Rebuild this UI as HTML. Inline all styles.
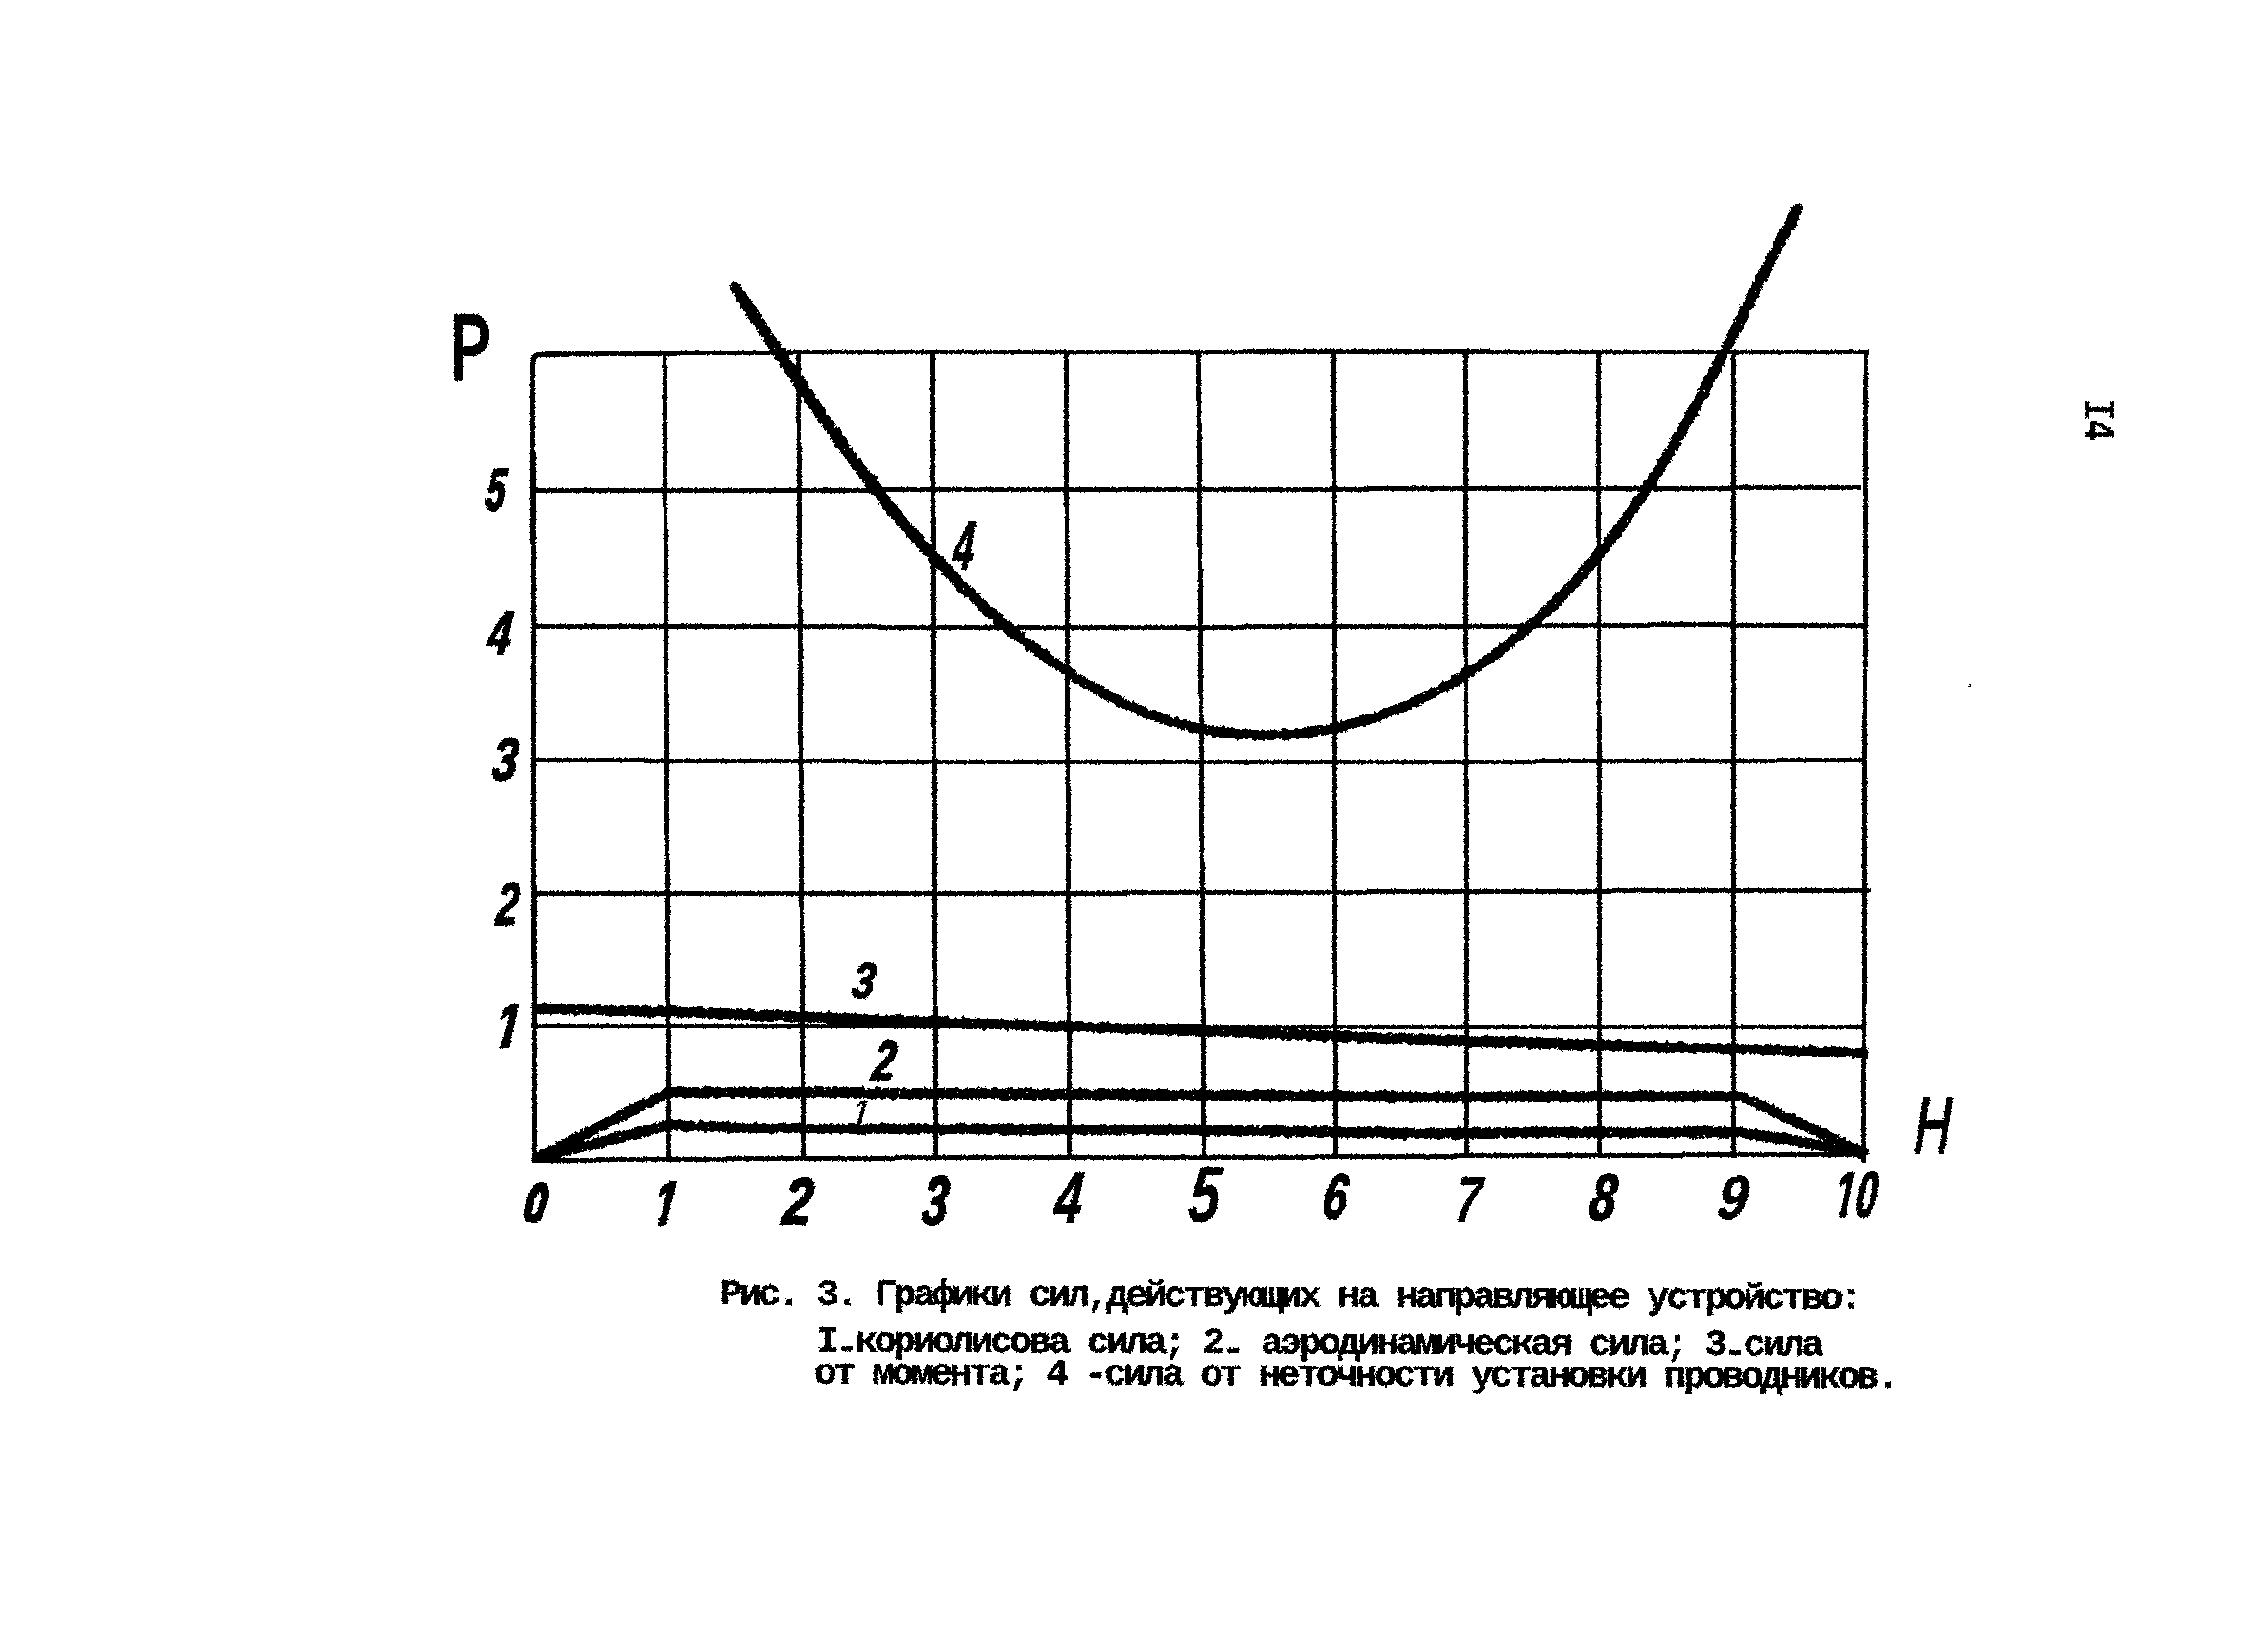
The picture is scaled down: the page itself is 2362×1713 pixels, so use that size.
<!DOCTYPE html>
<html lang="ru"><head><meta charset="utf-8"><title>Рис. 3</title>
<style>
html,body{margin:0;padding:0;background:#fff}
body{width:2362px;height:1713px;overflow:hidden;position:relative}
svg{position:absolute;left:0;top:0;display:block}
</style></head><body>
<svg width="2362" height="1713" viewBox="0 0 2362 1713">
<defs>
<clipPath id="nfb"><path d="M-50,-220H400V60H104V-27H75L70,8H29L34,-27H-50Z"/></clipPath>
<clipPath id="nfn"><path d="M-50,-220H400V60H104V-19H65L61,5H36L40,-19H-50Z"/></clipPath>
<filter id="rough" filterUnits="userSpaceOnUse" x="0" y="0" width="2362" height="1713" color-interpolation-filters="sRGB">
<feTurbulence type="fractalNoise" baseFrequency="0.45" numOctaves="2" seed="7" result="n"/>
<feDisplacementMap in="SourceGraphic" in2="n" scale="3.2" xChannelSelector="R" yChannelSelector="G" result="d"/>
<feComponentTransfer><feFuncA type="discrete" tableValues="0 1"/></feComponentTransfer>
</filter>
<filter id="ink" filterUnits="userSpaceOnUse" x="0" y="0" width="2362" height="1713" color-interpolation-filters="sRGB">
<feTurbulence type="fractalNoise" baseFrequency="0.18" numOctaves="3" seed="11" result="n"/>
<feDisplacementMap in="SourceGraphic" in2="n" scale="5" xChannelSelector="G" yChannelSelector="B" result="d"/>
<feTurbulence type="fractalNoise" baseFrequency="0.33" numOctaves="2" seed="23" result="m"/>
<feColorMatrix in="m" type="matrix" values="0 0 0 0 0  0 0 0 0 0  0 0 0 0 0  10 0 0 0 -7.6" result="holes"/>
<feComposite in="d" in2="holes" operator="out"/>
</filter>
</defs>
<g filter="url(#rough)">
<g stroke="#000" fill="none" stroke-linecap="butt">
<line x1="692" y1="367.5" x2="696.9" y2="1206" stroke-width="4.8"/>
<line x1="831.5" y1="367.5" x2="836.5" y2="1206" stroke-width="4.8"/>
<line x1="971.4" y1="367.5" x2="974.7" y2="1206" stroke-width="4.8"/>
<line x1="1110.3" y1="367.5" x2="1113.6" y2="1206" stroke-width="4.8"/>
<line x1="1248.6" y1="367.5" x2="1254.1" y2="1206" stroke-width="4.8"/>
<line x1="1388.7" y1="367.5" x2="1390.3" y2="1206" stroke-width="4.8"/>
<line x1="1526.6" y1="367.5" x2="1527.5" y2="1206" stroke-width="4.8"/>
<line x1="1664.8" y1="367.5" x2="1665.4" y2="1206" stroke-width="4.8"/>
<line x1="1805.3" y1="367.5" x2="1805.3" y2="1206" stroke-width="4.8"/>
<line x1="1943" y1="367.5" x2="1940.6" y2="1211" stroke-width="4.8"/>
<line x1="553" y1="510.8" x2="1938" y2="507.8" stroke-width="5"/>
<polyline points="553.5,1208.6 800,1206.8 975,1205.8 1250,1205.7 1480,1204.2 1700,1203.2 1943,1202.4" stroke-width="5"/>
<path d="M556.6,1206 L555.6,800 L554.7,379 Q554.6,369.3 564,369.1 L900,366.3 L1500,366 L1946,366.7" stroke-width="5.2" stroke-linejoin="round"/>
<polyline points="553,931 1111,930.2 1949,927" stroke-width="5"/>
<polyline points="553,1068.2 1000,1068.8 1250,1069 1480,1069.8 1943,1069" stroke-width="5"/>
<polyline points="553,652.2 1100,653.4 1540,652.4 1750,650.8 1943,651.2" stroke-width="5"/>
<polyline points="553,791.5 1000,793.5 1300,794 1600,793 1943,791.6" stroke-width="5"/>
</g>
<g stroke="#000" fill="none" stroke-linecap="round" stroke-linejoin="round" filter="url(#ink)">
<path d="M765.9,300.2C769.9,306.1 782.4,324.2 790.1,335.5C797.8,346.9 804.7,357.3 812,368.1C819.3,379 826.6,389.9 834,400.7C841.3,411.6 848.6,422.4 856.1,433.1C863.6,443.9 871.1,454.6 878.8,465.2C886.5,475.7 894.3,486.3 902.3,496.6C910.3,507 918.4,517.3 926.7,527.4C935,537.6 943.4,547.6 952.1,557.4C960.8,567.2 969.6,576.9 978.6,586.4C987.7,595.9 1001.7,609.7 1006.3,614.3" stroke-width="12.6"/>
<path d="M978.6,586.4C983.2,591.1 996.9,605.2 1006.3,614.3C1015.8,623.5 1025.4,632.4 1035.3,641C1045.1,649.7 1055.2,658.2 1065.6,666.3C1075.9,674.5 1092,686 1097.3,689.9" stroke-width="11.6"/>
<path d="M1065.6,666.3C1070.9,670.3 1086.5,682.4 1097.3,689.9C1108,697.4 1119.1,704.6 1130.3,711.3C1141.6,717.9 1153.1,724.2 1164.8,729.8C1176.5,735.4 1188.4,740.6 1200.6,745C1212.8,749.4 1225.2,753.2 1237.8,756.3C1250.4,759.3 1263.3,761.6 1276.3,763.1C1289.3,764.7 1302.5,765.4 1315.7,765.5C1328.8,765.6 1342.1,764.9 1355.2,763.5C1368.3,762.1 1381.4,760 1394.1,757.3C1406.9,754.5 1419.5,751.1 1431.9,747.1C1444.2,743 1456.4,738.3 1468.3,733.1C1480.2,727.9 1491.8,722.1 1503.3,715.8C1514.7,709.6 1525.8,702.7 1536.7,695.5C1547.6,688.3 1558.3,680.5 1568.7,672.4C1579,664.4 1589.1,655.8 1599,647C1608.8,638.2 1622.8,624.1 1627.5,619.5" stroke-width="10.6"/>
<path d="M1599,647C1603.7,642.4 1618.3,629 1627.5,619.5C1636.7,610.1 1645.7,600.3 1654.3,590.3C1662.9,580.3 1671.2,570.1 1679.2,559.7C1687.2,549.3 1694.8,538.6 1702.3,527.9C1709.8,517.1 1716.9,506.2 1723.9,495.1C1730.9,484.1 1737.6,472.8 1744.2,461.5C1750.9,450.2 1757.2,438.8 1763.6,427.3C1769.9,415.8 1776,404.2 1782.1,392.5C1788.2,380.9 1794.2,369.2 1800.2,357.5C1806.1,345.7 1812,334 1817.9,322.2C1823.9,310.5 1829.8,298.7 1835.7,287C1841.7,275.3 1847.7,263.6 1853.8,251.9C1859.8,240.3 1869.2,223 1872.3,217.2" stroke-width="11.4"/>
<path stroke-linecap="butt" d="M553.8,1050.3 L697,1053.8 L837,1058.8 L1000,1065.4 L1250,1073.8 L1480,1082.6 L1665,1088.3 L1945,1096.5" stroke-width="11"/>
<path d="M560,1205 L697,1137 L900,1138 L1250,1140.3 L1480,1142.3 L1813,1141.3 L1940,1200" stroke-width="11.2" stroke-linejoin="miter"/>
<path d="M561,1205.5 L697,1171.5 L760,1174 L837,1175 L1250,1176.8 L1480,1180.3 L1805,1178.8 L1860,1186 L1940,1201" stroke-width="11.2" stroke-linejoin="miter"/>
</g>
<g fill="#000">
<text transform="matrix(0.206 0 -0.033 0.28 544.609 1271.979)" font-size="200" font-family="'Liberation Sans',sans-serif" font-weight="bold" font-style="italic" stroke="#000" stroke-width="14" stroke-linejoin="round">0</text>
<text transform="matrix(0.229 0 -0.036 0.326 677.904 1275.658)" font-size="200" font-family="'Liberation Sans',sans-serif" font-weight="bold" font-style="italic" clip-path="url(#nfb)" stroke="#000" stroke-width="7" stroke-linejoin="round">1</text>
<text transform="matrix(0.272 0 -0.043 0.342 813.228 1274.602)" font-size="200" font-family="'Liberation Sans',sans-serif" font-weight="bold" font-style="italic" stroke="#000" stroke-width="7" stroke-linejoin="round">2</text>
<text transform="matrix(0.239 0 -0.038 0.356 958.798 1274.844)" font-size="200" font-family="'Liberation Sans',sans-serif" font-weight="bold" font-style="italic" stroke="#000" stroke-width="7" stroke-linejoin="round">3</text>
<text transform="matrix(0.257 0 -0.041 0.387 1096.476 1273.92)" font-size="200" font-family="'Liberation Sans',sans-serif" font-weight="bold" font-style="italic" stroke="#000" stroke-width="3" stroke-linejoin="round">4</text>
<text transform="matrix(0.294 0 -0.047 0.414 1235.465 1271.965)" font-size="200" font-family="'Liberation Sans',sans-serif" font-weight="bold" font-style="italic" stroke="#000" stroke-width="1" stroke-linejoin="round">5</text>
<text transform="matrix(0.23 0 -0.036 0.322 1375.757 1268.192)" font-size="200" font-family="'Liberation Sans',sans-serif" font-weight="bold" font-style="italic" stroke="#000" stroke-width="6" stroke-linejoin="round">6</text>
<text transform="matrix(0.236 0 -0.037 0.34 1513.682 1273.46)" font-size="200" font-family="'Liberation Sans',sans-serif" font-weight="bold" font-style="italic" stroke="#000" stroke-width="2" stroke-linejoin="round">7</text>
<text transform="matrix(0.25 0 -0.04 0.337 1653.204 1270.282)" font-size="200" font-family="'Liberation Sans',sans-serif" font-weight="bold" font-style="italic" stroke="#000" stroke-width="5" stroke-linejoin="round">8</text>
<text transform="matrix(0.274 0 -0.043 0.318 1786.868 1268.787)" font-size="200" font-family="'Liberation Sans',sans-serif" font-weight="bold" font-style="italic" stroke="#000" stroke-width="3" stroke-linejoin="round">9</text>
<text transform="matrix(0.203 0 -0.032 0.34 1908.379 1267.469)" font-size="200" font-family="'Liberation Sans',sans-serif" font-weight="bold" font-style="italic" clip-path="url(#nfb)" stroke="#000" stroke-width="5" stroke-linejoin="round">10</text>
<text transform="matrix(0.185 0 -0.029 0.314 504.492 531.415)" font-size="200" font-family="'Liberation Sans',sans-serif" font-weight="bold" font-style="italic" stroke="#000" stroke-width="8" stroke-linejoin="round">5</text>
<text transform="matrix(0.218 0 -0.035 0.319 506.816 681.485)" font-size="200" font-family="'Liberation Sans',sans-serif" font-weight="bold" font-style="italic" stroke="#000" stroke-width="7" stroke-linejoin="round">4</text>
<text transform="matrix(0.23 0 -0.036 0.309 511.325 812.302)" font-size="200" font-family="'Liberation Sans',sans-serif" font-weight="bold" font-style="italic" stroke="#000" stroke-width="7" stroke-linejoin="round">3</text>
<text transform="matrix(0.204 0 -0.032 0.314 515.492 962.602)" font-size="200" font-family="'Liberation Sans',sans-serif" font-weight="bold" font-style="italic" stroke="#000" stroke-width="7" stroke-linejoin="round">2</text>
<text transform="matrix(0.224 0 -0.035 0.322 514.435 1090.373)" font-size="200" font-family="'Liberation Sans',sans-serif" font-weight="bold" font-style="italic" clip-path="url(#nfb)" stroke="#000" stroke-width="7" stroke-linejoin="round">1</text>
<text transform="matrix(0.191 0 -0.03 0.359 991.473 592.901)" font-size="200" font-family="'Liberation Sans',sans-serif" font-weight="bold" font-style="italic" stroke="#000" stroke-width="5" stroke-linejoin="round">4</text>
<text transform="matrix(0.21 0 -0.033 0.26 886.183 1038.768)" font-size="200" font-family="'Liberation Sans',sans-serif" font-weight="bold" font-style="italic" stroke="#000" stroke-width="7" stroke-linejoin="round">3</text>
<text transform="matrix(0.213 0 -0.034 0.294 907.059 1125.324)" font-size="200" font-family="'Liberation Sans',sans-serif" font-weight="bold" font-style="italic" stroke="#000" stroke-width="8" stroke-linejoin="round">2</text>
<text transform="matrix(0.177 0 -0.012 0.175 886.362 1169.651)" font-size="200" font-family="'Liberation Sans',sans-serif" font-weight="normal" font-style="italic" clip-path="url(#nfn)" stroke="#000" stroke-width="4" stroke-linejoin="round">1</text>
<text transform="matrix(0.31 0 -0 0.484 469.431 394.52)" font-size="200" font-family="'Liberation Sans',sans-serif" font-weight="normal" font-style="normal" stroke="#000" stroke-width="9" stroke-linejoin="round">P</text>
<text transform="matrix(0.264 0 -0.018 0.412 1993.023 1200.957)" font-size="200" font-family="'Liberation Sans',sans-serif" font-weight="normal" font-style="italic" stroke="#000" stroke-width="7" stroke-linejoin="round">H</text>
<rect x="2051" y="712" width="2.2" height="3"/>
</g>
<g transform="translate(2170.8 415.2) rotate(90)"><text transform="scale(1 1.2)" x="0" y="0" font-family="'Liberation Mono',monospace" font-weight="bold" font-size="38" letter-spacing="-1.6">I4</text></g>
<g font-family="'Liberation Mono',monospace" font-weight="bold" font-size="38" letter-spacing="-3.458" fill="#000" stroke="#000" stroke-width="0.45" style="white-space:pre">
<text transform="translate(749.6 1358.1) rotate(0.22) scale(1.04 1)">Рис. 3. Графики сил,действующих на направляющее устройство:</text>
<text transform="translate(850.1 1407.3) rotate(0.22) scale(1.04 1)">I<tspan dy="7">-</tspan><tspan dy="-7">кориолисова</tspan> сила; 2<tspan dy="7">-</tspan><tspan dy="-7"> </tspan>аэродинамическая сила; 3<tspan dy="7">-</tspan><tspan dy="-7">сила</tspan></text>
<text transform="translate(848.0 1440.6) rotate(0.22) scale(1.04 1)">от момента; 4 -сила от неточности установки проводников.</text>
</g>
</g>
</svg>
</body></html>
